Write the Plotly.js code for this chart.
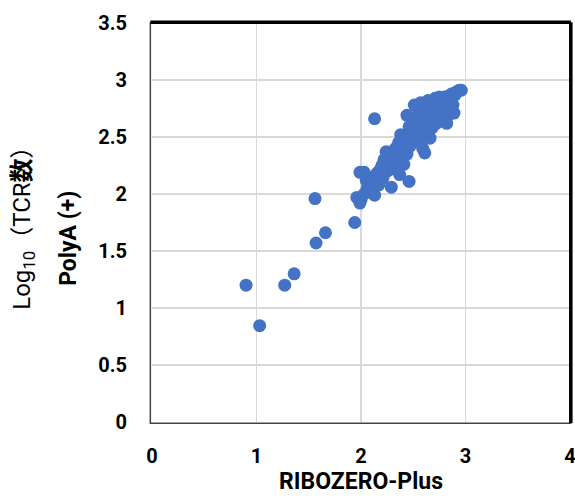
<!DOCTYPE html>
<html>
<head>
<meta charset="utf-8">
<script src="https://cdn.plot.ly/plotly-3.0.1.min.js"></script>
<style>html,body{margin:0;padding:0;background:#fff;}#chart{width:575px;height:502px;}</style>
</head>
<body>
<div id="chart"></div>
<script>
// RIBOZERO-Plus (x) vs PolyA(+) (y), log10 TCR counts
const ribozeroPlus = [
  0.90, 1.03, 1.27, 1.36, 1.57, 1.56, 1.66, 1.94, 1.96, 1.99, 1.99, 2.03, 2.13, 2.46,
  2.00, 2.03, 2.05, 2.06, 2.08, 2.08, 2.10, 2.12, 2.13, 2.15, 2.17, 2.18, 2.20, 2.21,
  2.22, 2.24, 2.25, 2.27, 2.29, 2.30, 2.31, 2.33, 2.35, 2.36, 2.37, 2.38, 2.40, 2.41,
  2.43, 2.44, 2.46, 2.47, 2.48, 2.50, 2.44, 2.51, 2.52, 2.53, 2.55, 2.56, 2.57, 2.58,
  2.59, 2.60, 2.61, 2.62, 2.63, 2.64, 2.65, 2.66, 2.67, 2.68, 2.69, 2.70, 2.71, 2.72,
  2.73, 2.74, 2.75, 2.76, 2.77, 2.78, 2.79, 2.80, 2.81, 2.82, 2.83, 2.84, 2.85, 2.86,
  2.87, 2.88, 2.89, 2.90, 2.92, 2.94, 2.96, 2.55, 2.62, 2.68, 2.74, 2.58, 2.50, 2.40
];
const polyAPlus = [
  1.20, 0.845, 1.20, 1.30, 1.57, 1.96, 1.66, 1.75, 1.97, 1.92, 2.19, 2.19, 2.66, 2.11,
  1.95, 2.00, 2.12, 2.05, 2.10, 2.02, 2.12, 2.15, 1.99, 2.18, 2.08, 2.21, 2.25, 2.14,
  2.30, 2.37, 2.20, 2.28, 2.06, 2.33, 2.22, 2.40, 2.30, 2.45, 2.17, 2.52, 2.38, 2.26,
  2.48, 2.35, 2.59, 2.42, 2.52, 2.46, 2.69, 2.78, 2.62, 2.55, 2.70, 2.48, 2.80, 2.60,
  2.40, 2.68, 2.36, 2.75, 2.55, 2.82, 2.64, 2.49, 2.72, 2.58, 2.80, 2.67, 2.84, 2.62,
  2.76, 2.70, 2.85, 2.78, 2.64, 2.82, 2.72, 2.85, 2.77, 2.62, 2.80, 2.86, 2.70, 2.83,
  2.88, 2.78, 2.71, 2.87, 2.90, 2.91, 2.91, 2.62, 2.66, 2.74, 2.66, 2.72, 2.58, 2.45
];
const xTicks = [0, 1, 2, 3, 4];
const yTicks = [0, 0.5, 1, 1.5, 2, 2.5, 3, 3.5];

const tickFont = {family: 'Roboto, "DejaVu Sans", sans-serif', size: 20, color: '#000', weight: 'bold'};

const trace = {
  x: ribozeroPlus, y: polyAPlus, type: 'scatter', mode: 'markers',
  marker: {color: '#4472C4', size: 13, line: {width: 0}},
  hoverinfo: 'x+y', cliponaxis: false
};

const layout = {
  width: 575, height: 502,
  margin: {l: 152, r: 5, t: 23, b: 80, pad: 0},
  paper_bgcolor: '#fff', plot_bgcolor: '#fff',
  showlegend: false,
  font: {family: 'Roboto, sans-serif', color: '#000'},
  xaxis: {
    range: [0, 4], tickvals: xTicks, ticktext: xTicks.map(String),
    showgrid: true, gridcolor: '#d9d9d9', gridwidth: 1.5,
    zeroline: false, showline: false, ticks: '',
    ticklabelstandoff: 20, ticklabeloverflow: 'allow',
    tickfont: tickFont,
    title: {text: '<b>RIBOZERO-Plus</b>', font: {family: 'Roboto, sans-serif', size: 23, color: '#000'}, standoff: 4}
  },
  yaxis: {
    range: [0, 3.5], tickvals: yTicks, ticktext: yTicks.map(String),
    showgrid: true, gridcolor: '#d9d9d9', gridwidth: 1.5,
    zeroline: false, showline: false, ticks: '',
    ticklabelstandoff: 24, ticklabeloverflow: 'allow',
    tickfont: tickFont
  },
  annotations: [
    {xref: 'paper', yref: 'paper', x: -0.308, y: 0.5, xanchor: 'center', yanchor: 'middle',
     textangle: -90, showarrow: false,
     text: 'Log<sub>10</sub>（TCR<b>数</b>）',
     font: {family: 'Roboto, "Noto Sans CJK JP", sans-serif', size: 24, color: '#000'}},
    {xref: 'paper', yref: 'paper', x: -0.2, y: 0.46, xanchor: 'center', yanchor: 'middle',
     textangle: -90, showarrow: false,
     text: '<b>PolyA (+)</b>',
     font: {family: 'Roboto, sans-serif', size: 23, color: '#000'}}
  ],
  shapes: [
    {type: 'rect', xref: 'paper', yref: 'paper', x0: -0.004, x1: 1, y0: -0.003, y1: 1,
     line: {color: '#444', width: 1.5}, layer: 'above'},
    {type: 'line', xref: 'paper', yref: 'paper', x0: -0.004, x1: 1.002, y0: 1.002, y1: 1.002,
     line: {color: '#000', width: 3.5}, layer: 'above'},
    {type: 'line', xref: 'paper', yref: 'paper', x0: 1.002, x1: 1.002, y0: -0.003, y1: 1.002,
     line: {color: '#000', width: 3.5}, layer: 'above'}
  ]
};

Plotly.newPlot('chart', [trace], layout, {displayModeBar: false, staticPlot: true});
</script>
</body>
</html>
